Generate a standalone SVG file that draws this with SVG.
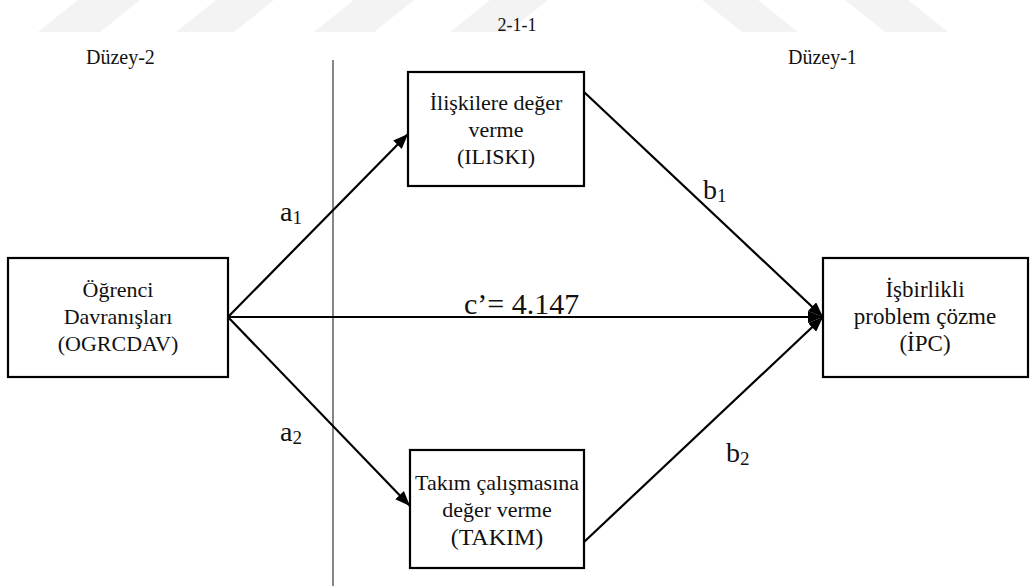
<svg xmlns="http://www.w3.org/2000/svg" width="1035" height="586" viewBox="0 0 1035 586">
  <style>
    .bg { fill: #ffffff; }
    .mark { fill: #f3f3f3; }
    .box { fill: #ffffff; stroke: #000000; stroke-width: 2.2; }
    .txt { font-family: "Liberation Serif", "Times New Roman", serif; font-size: 22px; fill: #111111; text-anchor: middle; }
    .head { font-family: "Liberation Serif", "Times New Roman", serif; font-size: 20px; fill: #111111; }
    .lab { font-family: "Liberation Serif", "Times New Roman", serif; font-size: 28px; fill: #111111; }
    .sub { font-size: 19px; }
    .arrow { stroke: #000000; stroke-width: 2.2; fill: none; marker-end: url(#tip); }
    .divider { stroke: #222222; stroke-width: 1.1; }
  </style>
  <defs>
    <marker id="tip" markerUnits="userSpaceOnUse" markerWidth="16" markerHeight="12" refX="15" refY="6" orient="auto">
      <path d="M0,0 L15,6 L0,12 z" fill="#000000"/>
    </marker>
  </defs>

  <rect class="bg" x="0" y="0" width="1035" height="586"/>

  <!-- faint background band along the top edge -->
  <g id="band">
    <polygon class="mark" points="38,32 100,32 140,0 78,0"/>
    <polygon class="mark" points="176,32 234,32 274,0 216,0"/>
    <polygon class="mark" points="314,32 374,32 414,0 354,0"/>
    <polygon class="mark" points="450,32 508,32 548,0 490,0"/>
    <polygon class="mark" points="742,32 798,32 758,0 702,0"/>
    <polygon class="mark" points="885,32 948,32 908,0 845,0"/>
  </g>

  <!-- headings -->
  <g id="headings">
    <text class="head" x="517" y="31" text-anchor="middle" style="font-size:18px">2-1-1</text>
    <text class="head" x="86" y="64">Düzey-2</text>
    <text class="head" x="788" y="64">Düzey-1</text>
  </g>

  <!-- level divider -->
  <line class="divider" x1="333" y1="60" x2="333" y2="586"/>

  <!-- paths between the variables -->
  <g id="connectors">
    <line class="arrow" x1="228" y1="317" x2="408" y2="134"/>
    <line class="arrow" x1="228" y1="317" x2="410" y2="506"/>
    <line class="arrow" x1="228" y1="317" x2="823" y2="317"/>
    <line class="arrow" x1="584" y1="92" x2="823" y2="317"/>
    <line class="arrow" x1="584" y1="542" x2="823" y2="317"/>
  </g>

  <!-- path coefficients -->
  <g id="labels">
    <text class="lab" x="280" y="221">a<tspan class="sub" dy="3">1</tspan></text>
    <text class="lab" x="703" y="199">b<tspan class="sub" dy="3">1</tspan></text>
    <text class="lab" x="280" y="441">a<tspan class="sub" dy="3">2</tspan></text>
    <text class="lab" x="726" y="462">b<tspan class="sub" dy="3">2</tspan></text>
    <text class="lab" x="464" y="314" style="font-size:30px">c’= 4.147</text>
  </g>

  <g id="ogrcdav">
    <rect class="box" x="8" y="258" width="220" height="119"/>
    <text class="txt" x="118" y="297">Öğrenci</text>
    <text class="txt" x="118" y="324">Davranışları</text>
    <text class="txt" x="118" y="351">(OGRCDAV)</text>
  </g>

  <g id="iliski">
    <rect class="box" x="408" y="72" width="176" height="114"/>
    <text class="txt" x="496" y="110">İlişkilere değer</text>
    <text class="txt" x="496" y="137">verme</text>
    <text class="txt" x="496" y="164">(ILISKI)</text>
  </g>

  <g id="takim">
    <rect class="box" x="410" y="450" width="174" height="118"/>
    <text class="txt" x="497" y="490">Takım çalışmasına</text>
    <text class="txt" x="497" y="517">değer verme</text>
    <text class="txt" x="497" y="545" style="font-size:24px">(TAKIM)</text>
  </g>

  <g id="ipc">
    <rect class="box" x="823" y="258" width="205" height="119"/>
    <text class="txt" x="925" y="297" style="font-size:23px">İşbirlikli</text>
    <text class="txt" x="925" y="324" style="font-size:23px">problem çözme</text>
    <text class="txt" x="925" y="351" style="font-size:23px">(İPC)</text>
  </g>
</svg>
